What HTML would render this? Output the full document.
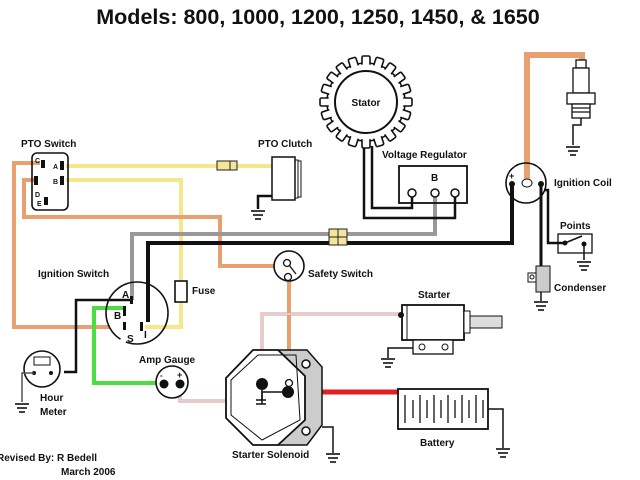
<!DOCTYPE html>
<html><head><meta charset="utf-8"><style>
html,body{margin:0;padding:0;background:#fff}
svg{display:block}
text{font-family:"Liberation Sans",sans-serif;font-weight:bold;fill:#111}
</style></head><body>
<svg width="640" height="480" viewBox="0 0 640 480" xmlns="http://www.w3.org/2000/svg">
<defs>
<g id="gnd" stroke="#111" stroke-width="1.6"><line x1="-7" y1="0" x2="7" y2="0"/><line x1="-5" y1="4" x2="5" y2="4"/><line x1="-3" y1="8" x2="3" y2="8"/></g>
</defs>
<text x="318" y="24" font-size="21.5" text-anchor="middle" font-weight="bold">Models: 800, 1000, 1200, 1250, 1450, &amp; 1650</text>

<!-- wires -->
<g fill="none" stroke-linejoin="miter">
<polyline points="66,166 272,166" stroke="#f5e88a" stroke-width="4"/>
<polyline points="66,180 181,180 181,327 145,327" stroke="#f5e88a" stroke-width="4"/>
<polyline points="40,163 14,163 14,327 110,327" stroke="#e8a070" stroke-width="4"/>
<polyline points="35,180 24,180 24,217 220,217 220,266 282,266" stroke="#e8a070" stroke-width="4"/>
<polyline points="289,276 289,383" stroke="#e8a070" stroke-width="4"/>
<polyline points="527,180 527,55 582,55 582,62" stroke="#e8a070" stroke-width="6"/>
<polyline points="132,300 132,234 435,234 435,197" stroke="#999" stroke-width="4"/>
<polyline points="148,322 148,243 512,243 512,184" stroke="#111" stroke-width="4"/>
<polyline points="130,300 76,300 76,372 64,372" stroke="#111" stroke-width="2.5"/>
<polyline points="372,146 372,208 412,208 412,196" stroke="#111" stroke-width="2.5"/>
<polyline points="364,146 364,218 455,218 455,196" stroke="#111" stroke-width="2.5"/>
<polyline points="541,184 541,268" stroke="#111" stroke-width="3"/>
<polyline points="544,190 548,190 548,243 565,243" stroke="#111" stroke-width="2.5"/>
<polyline points="124,308 94,308 94,383 163,383" stroke="#4ddd40" stroke-width="4"/>
<polyline points="400,314 262,314 262,385" stroke="#d09a9a" stroke-width="3"/>
<polyline points="400,314 262,314 262,385" stroke="#fff" stroke-width="1"/>
<polyline points="180,385 180,401 275,401 288,393" stroke="#d09a9a" stroke-width="3"/>
<polyline points="180,385 180,401 275,401 288,393" stroke="#fff" stroke-width="1"/>
<line x1="288" y1="392" x2="400" y2="392" stroke="#e02020" stroke-width="5"/>
</g>

<!-- PTO switch -->
<text x="21" y="147" font-size="10">PTO Switch</text>
<rect x="32" y="153" width="36" height="57" rx="5" fill="none" stroke="#111" stroke-width="1.6"/>
<g fill="#111"><rect x="41" y="160" width="4" height="8"/><rect x="60" y="161" width="4" height="9"/><rect x="60" y="176" width="4" height="9"/><rect x="34" y="176" width="4" height="9"/><rect x="44" y="197" width="4" height="8"/></g>
<g font-size="7"><text x="35" y="163">C</text><text x="53" y="169">A</text><text x="53" y="184">B</text><text x="35" y="197">D</text><text x="37" y="206">E</text></g>
<rect x="217" y="161" width="20" height="9" fill="#f3e69a" stroke="#222" stroke-width="1"/><line x1="230" y1="161" x2="230" y2="170" stroke="#222"/>

<!-- PTO clutch -->
<text x="258" y="147" font-size="10">PTO Clutch</text>
<rect x="272" y="157" width="23" height="43" fill="#fff" stroke="#111" stroke-width="1.5"/>
<rect x="295" y="160" width="3" height="38" fill="none" stroke="#111"/><rect x="298" y="161" width="3" height="36" fill="none" stroke="#111"/>
<polyline points="272,196 258,196 258,209" fill="none" stroke="#111" stroke-width="2.5"/>
<use href="#gnd" x="258" y="211"/>

<!-- Fuse -->
<rect x="175" y="281" width="12" height="21" fill="#fff" stroke="#111" stroke-width="1.6"/>
<text x="192" y="294" font-size="10">Fuse</text>

<!-- ignition switch -->
<text x="38" y="277" font-size="10">Ignition Switch</text>
<circle cx="137" cy="313" r="31" fill="none" stroke="#111" stroke-width="1.6" stroke-dasharray="60 6 200"/>
<g fill="#111"><rect x="130" y="296" width="3" height="8"/><rect x="123" y="306" width="3" height="10"/><rect x="123" y="322" width="3" height="8"/><rect x="140" y="322" width="3" height="9"/></g>
<g font-size="10"><text x="122" y="298">A</text><text x="114" y="319">B</text><text x="127" y="342">S</text><text x="144" y="338">I</text></g>

<!-- safety switch -->
<circle cx="289" cy="266" r="15" fill="#fff" stroke="#111" stroke-width="1.6"/>
<circle cx="287" cy="263" r="3.5" fill="none" stroke="#111" stroke-width="1.3"/><circle cx="288" cy="277" r="3.5" fill="none" stroke="#111" stroke-width="1.3"/>
<line x1="289" y1="265" x2="296" y2="274" stroke="#111" stroke-width="1.3"/>
<text x="308" y="277" font-size="10">Safety Switch</text>
<rect x="329" y="229" width="18" height="16" fill="#f3e69a" stroke="#222"/><line x1="329" y1="237" x2="347" y2="237" stroke="#222"/><line x1="338" y1="229" x2="338" y2="245" stroke="#222"/>

<!-- stator -->
<g transform="translate(366,102)" fill="#fff" stroke="#111" stroke-width="1.6">
<circle r="39"/>
<g id="teeth">
<rect x="-4" y="-46" width="8" height="10" rx="1.5"/>
</g>
<use href="#teeth" transform="rotate(18)"/><use href="#teeth" transform="rotate(36)"/><use href="#teeth" transform="rotate(54)"/><use href="#teeth" transform="rotate(72)"/><use href="#teeth" transform="rotate(90)"/><use href="#teeth" transform="rotate(108)"/><use href="#teeth" transform="rotate(126)"/><use href="#teeth" transform="rotate(144)"/><use href="#teeth" transform="rotate(162)"/><use href="#teeth" transform="rotate(180)"/><use href="#teeth" transform="rotate(198)"/><use href="#teeth" transform="rotate(216)"/><use href="#teeth" transform="rotate(234)"/><use href="#teeth" transform="rotate(252)"/><use href="#teeth" transform="rotate(270)"/><use href="#teeth" transform="rotate(288)"/><use href="#teeth" transform="rotate(306)"/><use href="#teeth" transform="rotate(324)"/><use href="#teeth" transform="rotate(342)"/>
<circle r="37.5" stroke="none"/>
<circle r="31" stroke-width="2"/>
</g>
<text x="366" y="106" font-size="10" text-anchor="middle">Stator</text>

<!-- voltage regulator -->
<text x="382" y="158" font-size="10">Voltage Regulator</text>
<rect x="399" y="166" width="68" height="37" fill="none" stroke="#111" stroke-width="1.8"/>
<text x="431" y="181" font-size="10">B</text>
<g fill="#fff" stroke="#111" stroke-width="1.5"><circle cx="412" cy="193" r="4"/><circle cx="435" cy="193" r="4"/><circle cx="455" cy="193" r="4"/></g>

<!-- ignition coil -->
<circle cx="526" cy="183" r="20" fill="none" stroke="#111" stroke-width="1.6"/>
<ellipse cx="527" cy="183" rx="5" ry="4" fill="#fff" stroke="#111"/>
<circle cx="512" cy="184" r="3" fill="#111"/><circle cx="541" cy="184" r="3" fill="#111"/>
<text x="509" y="179" font-size="9">+</text>
<text x="554" y="186" font-size="10">Ignition Coil</text>

<!-- spark plug -->
<g stroke="#111" stroke-width="1.3" fill="#fff">
<rect x="576" y="60" width="10" height="8"/>
<rect x="573" y="68" width="16" height="25"/>
<rect x="567" y="93" width="28" height="11"/>
<rect x="572" y="104" width="18" height="14"/>
<line x1="572" y1="108" x2="590" y2="108"/><line x1="572" y1="112" x2="590" y2="112"/>
</g>
<polyline points="581,118 581,125 573,125 573,145" fill="none" stroke="#111" stroke-width="1.5"/>
<use href="#gnd" x="573" y="147"/>

<!-- points -->
<text x="560" y="229" font-size="10">Points</text>
<rect x="558" y="234" width="34" height="19" fill="none" stroke="#111" stroke-width="1.3"/>
<circle cx="565" cy="243" r="2.5" fill="#111"/><circle cx="584" cy="244" r="2.5" fill="#111"/>
<line x1="565" y1="243" x2="582" y2="236" stroke="#111" stroke-width="1.5"/>
<line x1="584" y1="244" x2="584" y2="260" stroke="#111" stroke-width="1.5"/>
<use href="#gnd" x="584" y="262"/>

<!-- condenser -->
<rect x="536" y="266" width="14" height="26" fill="#ccc" stroke="#111"/>
<rect x="528" y="273" width="8" height="9" fill="#fff" stroke="#111"/><circle cx="532" cy="277" r="2" fill="none" stroke="#111"/>
<line x1="541" y1="292" x2="541" y2="301" stroke="#111" stroke-width="1.5"/>
<use href="#gnd" x="541" y="302"/>
<text x="554" y="291" font-size="10">Condenser</text>

<!-- starter -->
<text x="418" y="298" font-size="10">Starter</text>
<rect x="402" y="305" width="62" height="35" fill="#fff" stroke="#111" stroke-width="1.8"/>
<line x1="407" y1="305" x2="407" y2="340" stroke="#111"/>
<rect x="464" y="311" width="6" height="22" fill="#fff" stroke="#111"/>
<rect x="470" y="316" width="32" height="12" fill="#ddd" stroke="#111"/>
<circle cx="401" cy="315" r="3" fill="#111"/>
<rect x="413" y="340" width="40" height="14" fill="#fff" stroke="#111" stroke-width="1.3"/>
<circle cx="422" cy="347" r="3" fill="none" stroke="#111"/><circle cx="445" cy="347" r="3" fill="none" stroke="#111"/>
<polyline points="413,348 388,348 388,358" fill="none" stroke="#111" stroke-width="1.5"/>
<use href="#gnd" x="388" y="359"/>

<!-- battery -->
<rect x="398" y="389" width="90" height="40" fill="#fff" stroke="#111" stroke-width="1.8"/>
<g stroke="#111" stroke-width="1.3">
<line x1="405" y1="395" x2="405" y2="423"/><line x1="413" y1="400" x2="413" y2="418"/><line x1="420" y1="395" x2="420" y2="423"/><line x1="427" y1="400" x2="427" y2="418"/><line x1="434" y1="395" x2="434" y2="423"/><line x1="441" y1="400" x2="441" y2="418"/><line x1="448" y1="395" x2="448" y2="423"/><line x1="455" y1="400" x2="455" y2="418"/><line x1="462" y1="395" x2="462" y2="423"/><line x1="469" y1="400" x2="469" y2="418"/><line x1="476" y1="395" x2="476" y2="423"/><line x1="483" y1="400" x2="483" y2="418"/>
</g>
<polyline points="488,409 503,409 503,448" fill="none" stroke="#111" stroke-width="1.5"/>
<use href="#gnd" x="503" y="449"/>
<text x="420" y="446" font-size="10">Battery</text>

<!-- starter solenoid -->
<polygon points="278,350 307,350 322,367 322,425 307,445 278,445 263,440 278,440" fill="#ccc" stroke="#111" stroke-width="1.5"/>
<polygon points="253,350 278,350 305,376 305,420 278,445 253,445 226,418 226,378" fill="#fff" stroke="#111" stroke-width="1.8"/>
<polygon points="258,355 296,355 300,420 262,440 231,415 231,380" fill="none" stroke="#111" stroke-width="1"/>
<circle cx="306" cy="364" r="4" fill="#fff" stroke="#111" stroke-width="1.5"/>
<circle cx="306" cy="431" r="4" fill="#fff" stroke="#111" stroke-width="1.5"/>
<circle cx="262" cy="384" r="6" fill="#111"/>
<line x1="262" y1="390" x2="262" y2="400" stroke="#111" stroke-width="1.5"/>
<line x1="256" y1="400" x2="266" y2="400" stroke="#111" stroke-width="1.5"/><line x1="256" y1="404" x2="266" y2="404" stroke="#111" stroke-width="1.5"/>
<polyline points="262,404 262,392 288,392" fill="none" stroke="#111" stroke-width="1.5"/>
<circle cx="288" cy="392" r="6" fill="#111"/>
<circle cx="289" cy="383" r="3.5" fill="#fff" stroke="#111" stroke-width="1.3"/>
<polyline points="322,427 333,427 333,453" fill="none" stroke="#111" stroke-width="1.5"/>
<use href="#gnd" x="333" y="454"/>
<text x="232" y="458" font-size="10">Starter Solenoid</text>

<!-- hour meter -->
<circle cx="42" cy="369" r="18" fill="#fff" stroke="#111" stroke-width="1.6"/>
<rect x="34" y="357" width="16" height="8" fill="#fff" stroke="#111"/>
<circle cx="34" cy="373" r="2" fill="#111"/><circle cx="51" cy="373" r="2" fill="#111"/>
<polyline points="34,373 22,373 22,402" fill="none" stroke="#555" stroke-width="1.5"/>
<use href="#gnd" x="22" y="404"/>
<text x="40" y="401" font-size="10">Hour</text>
<text x="40" y="415" font-size="10">Meter</text>

<!-- amp gauge -->
<text x="139" y="363" font-size="10">Amp Gauge</text>
<circle cx="172" cy="382" r="16" fill="#fff" stroke="#111" stroke-width="1.6"/>
<circle cx="164" cy="384" r="4.5" fill="#111"/><circle cx="180" cy="384" r="4.5" fill="#111"/>
<text x="160" y="378" font-size="8">-</text><text x="177" y="378" font-size="9">+</text>

<!-- credits -->
<text x="-3" y="461" font-size="10">Revised By: R Bedell</text>
<text x="61" y="475" font-size="10">March 2006</text>
</svg>
</body></html>
